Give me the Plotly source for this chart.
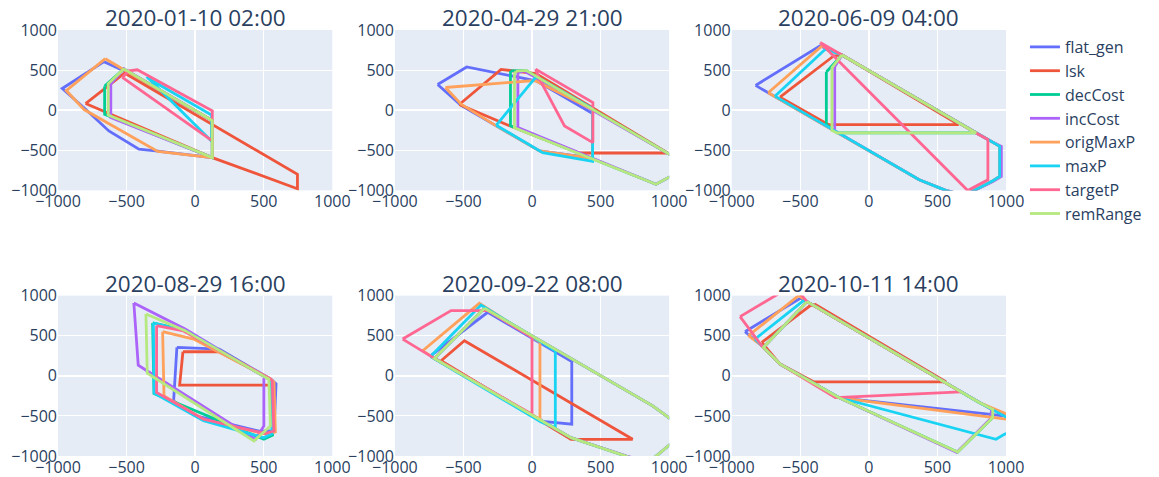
import plotly.graph_objects as go
from plotly.subplots import make_subplots

series_names = ["flat_gen", "lsk", "decCost", "incCost", "origMaxP", "maxP", "targetP", "remRange"]
series_colors = ["#636EFA", "#EF553B", "#00CC96", "#AB63FA", "#FFA15A", "#19D3F3", "#FF6692", "#B6E880"]
subplot_titles = ["2020-01-10 02:00", "2020-04-29 21:00", "2020-06-09 04:00",
                  "2020-08-29 16:00", "2020-09-22 08:00", "2020-10-11 14:00"]
axis_ticks = [-1000, -500, 0, 500, 1000]

# polygon vertices per snapshot: series -> (x list, y list)
snap1 = {
    "flat_gen": ([-665, -969, -799, -629, -410, -288, 125, 125, -520],
                 [605, 271, 12, -259, -487, -508, -591, -130, 491]),
    "lsk": ([-799, -515, 746, 746, 125],
            [83, 462, -800, -979, -591]),
    "decCost": ([-660, -660, 125, 125, -520],
                [300, -50, -591, -130, 515]),
    "incCost": ([-615, -615, 125, 125, -520],
                [330, -92, -591, -130, 515]),
    "origMaxP": ([-655, -940, -810, -273, 125, 125, -520],
                 [642, 245, 8, -514, -591, -130, 505]),
    "maxP": ([-350, 120, 120, -350],
             [405, -60, -388, 415]),
    "targetP": ([-531, -483, -422, 125, 125],
                [409, 490, 504, -8, -383]),
    "remRange": ([-520, -634, -634, 125, 125],
                 [515, 330, -60, -591, -130]),
}
snap2 = {
    "flat_gen": ([-688, -476, 31, 442, 442, 55, -261, -517],
                 [321, 539, 367, -42, -597, -508, -196, 60]),
    "lsk": ([-530, -226, 29, 989, 345, -141],
            [71, 509, 455, -534, -534, -210]),
    "decCost": ([-157, -44, 1050, 1050, 904, -157],
                [490, 497, -597, -790, -923, -196]),
    "incCost": ([-103, -60, 1050, 1050, 904, -103],
                [467, 490, -597, -790, -923, -217]),
    "origMaxP": ([-631, 20, 442, 442, 55, -261, -517],
                 [283, 370, 10, -600, -508, -196, 75]),
    "maxP": ([-261, 31, 442, 442, 78],
             [-188, 420, 20, -639, -530]),
    "targetP": ([26, 444, 444, 237, 55],
                [512, 96, -404, -196, 387]),
    "remRange": ([-117, -44, 1050, 1050, 904, -128, -128],
                 [488, 497, -597, -790, -923, -221, 440]),
}
snap3 = {
    "flat_gen": ([-826, -355, -196, 782, 868, 954, 954, 905, 700, 560, 367, -685],
                 [309, 802, 689, -284, -367, -451, -827, -880, -1060, -1000, -868, 175]),
    "lsk": ([-648, -257, -196, 655, -293],
            [163, 676, 689, -180, -180]),
    "decCost": ([-310, -196, 782, -232, -310],
                [476, 689, -284, -284, -180]),
    "incCost": ([-249, -196, 782, 868, 966, 966, 905, 700, 560, 367, -249],
                [540, 689, -284, -367, -451, -827, -890, -1060, -1000, -868, -255]),
    "origMaxP": ([-734, -342, -196, 782, 868, 954, 954, 905, 700, 560, 367, -685],
                 [217, 802, 689, -284, -367, -451, -827, -880, -1060, -1000, -868, 175]),
    "maxP": ([-685, -318, -196, 782, 868, 954, 954, 905, 700, 560, 367],
             [175, 760, 689, -284, -367, -451, -827, -880, -1060, -1000, -868]),
    "targetP": ([-355, -196, 782, 868, 868, 721],
                [843, 689, -284, -367, -868, -1002]),
    "remRange": ([-196, -269, -269, -232, 782],
                 [689, 530, -255, -284, -284]),
}
snap4 = {
    "flat_gen": ([-133, 176, 550, 590, 575, 465, 7, -157],
                 [354, 333, -40, -100, -683, -690, -500, -313]),
    "lsk": ([-89, 176, 549, 549, -113],
            [300, 300, -42, -117, -117]),
    "decCost": ([-310, -73, 540, 560, 565, 501, -300],
                [660, 570, -40, -60, -740, -790, -220]),
    "incCost": ([-447, -293, -73, 510, 501, 501, 441, -349, -415],
                [908, 771, 583, -20, -42, -625, -792, 60, 133]),
    "origMaxP": ([-237, -12, 550, 575, 585, 520, 61, -227],
                 [550, 458, -40, -80, -700, -730, -542, -250]),
    "maxP": ([-305, -73, 540, 555, 560, 501, 61, -299],
             [658, 560, -40, -60, -720, -771, -560, -217]),
    "targetP": ([-281, -85, 550, 562, 574, 513, 61, -281],
                [625, 560, -40, -62, -688, -720, -542, -208]),
    "remRange": ([-359, -73, 537, 549, 429, -349],
                 [771, 563, -42, -625, -813, 33]),
}
snap5 = {
    "flat_gen": ([-740, -323, 290, 290, 78, -712],
                 [250, 792, 178, -604, -567, 217]),
    "lsk": ([-663, -493, 734, 284],
            [188, 438, -792, -792]),
    "decCost": ([-347, 880, 1060, 1060, 850, 700, 284, -712],
                [842, -375, -600, -780, -1080, -1010, -771, 217]),
    "incCost": ([-347, 880, 1060, 1060, 850, 690, 284, -712],
                [842, -375, -600, -780, -1080, -1000, -771, 217]),
    "origMaxP": ([-797, -384, 58, 58, -712],
                 [313, 904, 420, -542, 217]),
    "maxP": ([-740, -372, 170, 170, 66, -712],
             [240, 883, 313, -646, -575, 217]),
    "targetP": ([-943, -590, -323, 0, 0, -712],
                [458, 813, 813, 479, -479, 217]),
    "remRange": ([-347, 880, 1060, 1060, 850, 700, 284, -712],
                 [842, -375, -600, -780, -1080, -1010, -771, 217]),
}
snap6 = {
    "flat_gen": ([-903, -500, -451, 805, 988, 988, -220, -647, -781],
                 [550, 967, 925, -333, -480, -500, -271, 146, 375]),
    "lsk": ([-781, -427, -390, 561, -403, -647],
            [417, 875, 890, -75, -75, 146]),
    "decCost": ([-451, 805, 903, 903, 647, -220, -647, -769],
                [925, -333, -417, -521, -950, -271, 146, 354]),
    "incCost": ([-451, 805, 895, 885, 640, -220, -647, -769],
                [925, -333, -420, -540, -955, -271, 146, 354]),
    "origMaxP": ([-878, -512, -451, 805, 1010, 1010, -220, -647, -781],
                 [500, 1000, 925, -333, -480, -542, -271, 146, 375]),
    "maxP": ([-830, -476, -451, 805, 1050, 1050, 988, 927, -220, -647, -781],
             [458, 938, 925, -333, -560, -700, -729, -792, -271, 146, 375]),
    "targetP": ([-939, -553, -451, 671, -244, -647, -781],
                [738, 1130, 925, -200, -271, 146, 375]),
    "remRange": ([-451, 805, 903, 903, 647, -220, -647, -769],
                 [925, -333, -417, -521, -950, -271, 146, 354]),
}
snapshots = [snap1, snap2, snap3, snap4, snap5, snap6]

fig = make_subplots(rows=2, cols=3, subplot_titles=subplot_titles,
                    horizontal_spacing=0.066, vertical_spacing=0.247)

for i, snap in enumerate(snapshots):
    r, c = i // 3 + 1, i % 3 + 1
    for name, color in zip(series_names, series_colors):
        xs, ys = snap[name]
        fig.add_trace(go.Scatter(
            x=list(xs) + [xs[0]], y=list(ys) + [ys[0]], mode="lines", name=name,
            legendgroup=name, showlegend=(i == 0),
            line=dict(color=color, width=2.8)), row=r, col=c)
    fig.update_xaxes(range=[-1000, 1000], tickvals=axis_ticks, automargin=False, row=r, col=c)
    fig.update_yaxes(range=[-1000, 1000], tickvals=axis_ticks, automargin=False, row=r, col=c)

fig.update_annotations(font=dict(size=22.5, color="#2a3f5f"), yshift=-5)
fig.update_layout(
    width=1159, height=477, template="plotly",
    margin=dict(l=50, r=161, t=22, b=29, autoexpand=False),
    font=dict(family="Open Sans, Arial, sans-serif", size=16, color="#2a3f5f"),
    legend=dict(font=dict(size=16), tracegroupgap=0),
)
fig.write_html("out.html")
